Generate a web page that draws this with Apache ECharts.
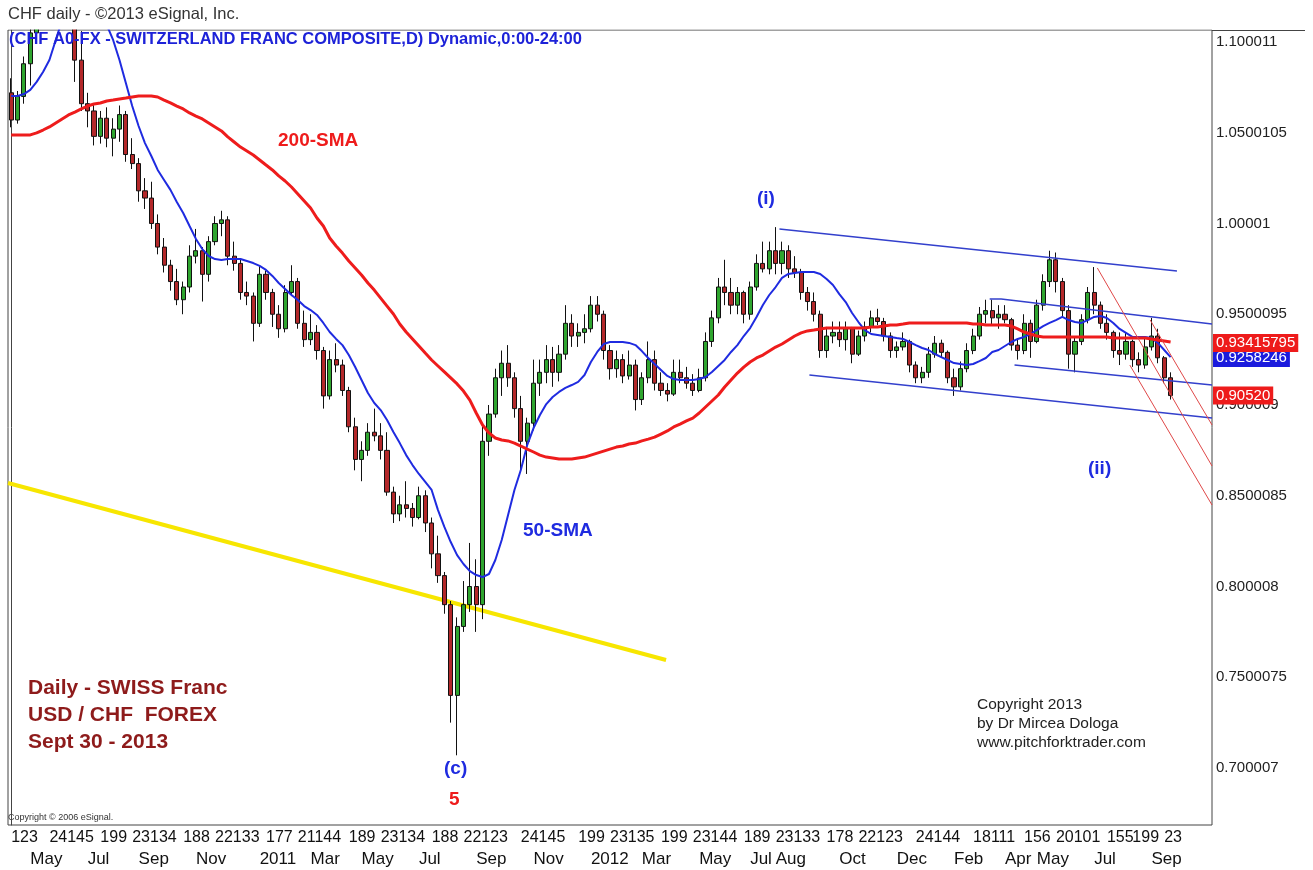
<!DOCTYPE html>
<html>
<head>
<meta charset="utf-8">
<title>CHF daily</title>
<script src="https://cdn.jsdelivr.net/npm/echarts@6/dist/echarts.min.js"></script>
<style>
html, body { margin: 0; padding: 0; background: #fff; }
#main { width: 1313px; height: 870px; }
</style>
</head>
<body>
<div id="main"></div>
<script>
// weekly bars: [open, close, low, high]
var weeklyBars = [
 [1.072,1.057,1.053,1.080],[1.057,1.070,1.055,1.073],[1.070,1.088,1.066,1.092],[1.088,1.105,1.076,1.112],
 [1.105,1.125,1.100,1.135],[1.125,1.140,1.120,1.150],[1.140,1.155,1.135,1.165],[1.155,1.160,1.140,1.175],
 [1.160,1.150,1.140,1.170],[1.150,1.130,1.120,1.160],[1.130,1.090,1.078,1.135],[1.090,1.066,1.062,1.106],
 [1.066,1.062,1.053,1.072],[1.062,1.048,1.043,1.066],[1.048,1.058,1.044,1.062],[1.058,1.047,1.042,1.064],
 [1.047,1.052,1.037,1.058],[1.052,1.060,1.045,1.065],[1.060,1.038,1.034,1.062],[1.038,1.033,1.030,1.047],
 [1.033,1.018,1.012,1.036],[1.018,1.014,1.008,1.025],[1.014,1.000,0.997,1.023],[1.000,0.987,0.983,1.005],
 [0.987,0.977,0.973,0.992],[0.977,0.968,0.963,0.980],[0.968,0.958,0.955,0.975],[0.958,0.965,0.950,0.968],
 [0.965,0.982,0.962,0.988],[0.982,0.985,0.978,0.997],[0.985,0.972,0.957,0.987],[0.972,0.990,0.968,0.993],
 [0.990,1.000,0.988,1.004],[1.000,1.002,0.993,1.007],[1.002,0.982,0.977,1.004],[0.982,0.978,0.974,0.990],
 [0.978,0.962,0.958,0.980],[0.962,0.960,0.955,0.968],[0.960,0.945,0.935,0.962],[0.945,0.972,0.943,0.977],
 [0.972,0.962,0.958,0.974],[0.962,0.950,0.943,0.964],[0.950,0.942,0.937,0.955],[0.942,0.962,0.940,0.966],
 [0.962,0.968,0.960,0.977],[0.968,0.945,0.942,0.970],[0.945,0.936,0.932,0.952],[0.936,0.940,0.933,0.950],
 [0.940,0.930,0.925,0.944],[0.930,0.905,0.898,0.932],[0.905,0.925,0.903,0.930],[0.925,0.922,0.918,0.934],
 [0.922,0.908,0.905,0.925],[0.908,0.888,0.885,0.910],[0.888,0.870,0.864,0.893],[0.870,0.875,0.858,0.880],
 [0.875,0.885,0.872,0.890],[0.885,0.883,0.880,0.898],[0.883,0.875,0.870,0.890],[0.875,0.852,0.850,0.885],
 [0.852,0.840,0.835,0.855],[0.840,0.845,0.836,0.850],[0.845,0.843,0.838,0.858],[0.843,0.838,0.833,0.846],
 [0.838,0.850,0.837,0.855],[0.850,0.835,0.830,0.853],[0.835,0.818,0.810,0.838],[0.818,0.806,0.802,0.828],
 [0.806,0.790,0.785,0.808],[0.790,0.740,0.725,0.792],[0.740,0.778,0.707,0.783],[0.778,0.790,0.775,0.803],
 [0.790,0.800,0.786,0.824],[0.800,0.790,0.775,0.815],[0.790,0.880,0.782,0.890],[0.880,0.895,0.872,0.900],
 [0.895,0.915,0.893,0.920],[0.915,0.923,0.905,0.930],[0.923,0.915,0.910,0.933],[0.915,0.898,0.893,0.918],
 [0.898,0.880,0.863,0.905],[0.880,0.890,0.862,0.893],[0.890,0.912,0.886,0.925],[0.912,0.918,0.905,0.925],
 [0.918,0.925,0.912,0.933],[0.925,0.918,0.910,0.932],[0.918,0.928,0.913,0.933],[0.928,0.945,0.925,0.955],
 [0.945,0.938,0.932,0.950],[0.938,0.940,0.932,0.945],[0.940,0.942,0.934,0.950],[0.942,0.955,0.940,0.960],
 [0.955,0.950,0.946,0.960],[0.950,0.930,0.925,0.952],[0.930,0.920,0.914,0.933],[0.920,0.925,0.915,0.930],
 [0.925,0.916,0.912,0.928],[0.916,0.922,0.914,0.930],[0.922,0.903,0.897,0.925],[0.903,0.915,0.900,0.918],
 [0.915,0.925,0.912,0.935],[0.925,0.912,0.908,0.930],[0.912,0.908,0.905,0.918],[0.908,0.906,0.902,0.912],
 [0.906,0.918,0.905,0.925],[0.918,0.915,0.912,0.925],[0.915,0.912,0.909,0.921],[0.912,0.908,0.905,0.917],
 [0.908,0.915,0.907,0.920],[0.915,0.935,0.913,0.940],[0.935,0.948,0.932,0.952],[0.948,0.965,0.945,0.970],
 [0.965,0.962,0.955,0.980],[0.962,0.955,0.950,0.970],[0.955,0.962,0.950,0.965],[0.962,0.950,0.945,0.963],
 [0.950,0.965,0.947,0.968],[0.965,0.978,0.963,0.983],[0.978,0.975,0.973,0.990],[0.975,0.985,0.972,0.990],
 [0.985,0.978,0.972,0.998],[0.978,0.985,0.972,0.990],[0.985,0.975,0.970,0.988],[0.975,0.973,0.970,0.982],
 [0.973,0.962,0.958,0.975],[0.962,0.957,0.952,0.965],[0.957,0.950,0.946,0.962],[0.950,0.930,0.926,0.952],
 [0.930,0.938,0.926,0.943],[0.938,0.940,0.934,0.946],[0.940,0.936,0.932,0.946],[0.936,0.942,0.930,0.946],
 [0.942,0.928,0.923,0.943],[0.928,0.938,0.927,0.941],[0.938,0.943,0.935,0.946],[0.943,0.948,0.940,0.952],
 [0.948,0.946,0.944,0.953],[0.946,0.938,0.935,0.948],[0.938,0.930,0.926,0.940],[0.930,0.932,0.926,0.935],
 [0.932,0.935,0.930,0.940],[0.935,0.922,0.918,0.936],[0.922,0.915,0.912,0.924],[0.915,0.918,0.912,0.921],
 [0.918,0.928,0.915,0.932],[0.928,0.934,0.926,0.938],[0.934,0.929,0.926,0.936],[0.929,0.915,0.912,0.930],
 [0.915,0.910,0.905,0.920],[0.910,0.920,0.908,0.924],[0.920,0.930,0.918,0.934],[0.930,0.938,0.928,0.942],
 [0.938,0.950,0.936,0.954],[0.950,0.952,0.945,0.958],[0.952,0.948,0.944,0.958],[0.948,0.950,0.942,0.955],
 [0.950,0.947,0.945,0.955],[0.947,0.933,0.930,0.948],[0.933,0.930,0.925,0.936],[0.930,0.945,0.928,0.950],
 [0.945,0.935,0.926,0.947],[0.935,0.955,0.934,0.958],[0.955,0.968,0.952,0.972],[0.968,0.980,0.965,0.985],
 [0.980,0.968,0.962,0.984],[0.968,0.952,0.948,0.970],[0.952,0.928,0.920,0.955],[0.928,0.935,0.918,0.938],
 [0.935,0.947,0.933,0.950],[0.947,0.962,0.945,0.965],[0.962,0.955,0.950,0.976],[0.955,0.945,0.942,0.957],
 [0.945,0.940,0.936,0.950],[0.940,0.930,0.926,0.941],[0.930,0.928,0.922,0.940],[0.928,0.935,0.925,0.940],
 [0.935,0.925,0.921,0.936],[0.925,0.922,0.918,0.929],[0.922,0.932,0.920,0.937],[0.932,0.938,0.930,0.948],
 [0.938,0.926,0.923,0.942],[0.926,0.915,0.912,0.927],[0.915,0.9052,0.903,0.918]
];

var sma50 = [
 1.0702,1.0702,1.0713,1.0736,1.0780,1.0835,1.0901,1.1011,1.1121,1.1204,1.1259,1.1276,1.1259,1.1204,1.1149,1.1094,
 1.1011,1.0901,1.0774,1.0647,1.0537,1.0443,1.0372,1.0295,1.0240,1.0185,1.0118,1.0058,0.9986,0.9915,0.9859,0.9821,
 0.9804,0.9799,0.9804,0.9804,0.9804,0.9793,0.9782,0.9766,0.9744,0.9711,0.9672,0.9639,0.9606,0.9578,0.9545,0.9523,
 0.9496,0.9452,0.9402,0.9364,0.9330,0.9275,0.9209,0.9138,0.9066,0.9011,0.8972,0.8917,0.8851,0.8790,0.8724,0.8669,
 0.8620,0.8576,0.8532,0.8421,0.8328,0.8245,0.8173,0.8124,0.8085,0.8063,0.8052,0.8069,0.8146,0.8256,0.8394,0.8532,
 0.8642,0.8779,0.8873,0.8945,0.9005,0.9044,0.9072,0.9094,0.9110,0.9127,0.9165,0.9237,0.9292,0.9336,0.9347,0.9347,
 0.9347,0.9342,0.9330,0.9297,0.9259,0.9226,0.9193,0.9160,0.9143,0.9138,0.9138,0.9138,0.9143,0.9154,0.9182,0.9215,
 0.9248,0.9292,0.9330,0.9380,0.9424,0.9485,0.9551,0.9606,0.9650,0.9700,0.9722,0.9727,0.9733,0.9733,0.9733,0.9722,
 0.9694,0.9661,0.9611,0.9567,0.9507,0.9457,0.9413,0.9391,0.9386,0.9380,0.9375,0.9369,0.9364,0.9347,0.9330,0.9314,
 0.9303,0.9281,0.9264,0.9248,0.9231,0.9226,0.9220,0.9226,0.9242,0.9259,0.9292,0.9303,0.9325,0.9347,0.9364,0.9375,
 0.9391,0.9413,0.9435,0.9452,0.9468,0.9485,0.9468,0.9457,0.9452,0.9468,0.9485,0.9490,0.9479,0.9452,0.9419,0.9397,
 0.9375,0.9375,0.9375,0.9369,0.9342,0.9303,0.9264
];

var sma200 = [
 1.0488,1.0488,1.0488,1.0488,1.0499,1.0515,1.0532,1.0554,1.0576,1.0598,1.0614,1.0631,1.0647,1.0658,1.0664,1.0675,
 1.0680,1.0686,1.0691,1.0697,1.0702,1.0702,1.0702,1.0697,1.0680,1.0664,1.0647,1.0631,1.0609,1.0592,1.0576,1.0554,
 1.0532,1.0510,1.0477,1.0449,1.0421,1.0399,1.0377,1.0350,1.0322,1.0295,1.0262,1.0234,1.0201,1.0163,1.0124,1.0085,
 1.0030,0.9986,0.9920,0.9876,0.9837,0.9793,0.9755,0.9716,0.9672,0.9633,0.9589,0.9545,0.9501,0.9446,0.9402,0.9364,
 0.9325,0.9286,0.9248,0.9215,0.9182,0.9149,0.9116,0.9077,0.9027,0.8956,0.8890,0.8846,0.8818,0.8807,0.8802,0.8790,
 0.8774,0.8757,0.8741,0.8724,0.8713,0.8708,0.8702,0.8702,0.8702,0.8708,0.8713,0.8724,0.8735,0.8746,0.8757,0.8768,
 0.8774,0.8785,0.8790,0.8802,0.8812,0.8823,0.8840,0.8857,0.8879,0.8895,0.8912,0.8928,0.8956,0.8989,0.9022,0.9055,
 0.9099,0.9138,0.9176,0.9209,0.9237,0.9259,0.9275,0.9297,0.9319,0.9336,0.9358,0.9380,0.9397,0.9408,0.9413,0.9419,
 0.9424,0.9424,0.9424,0.9424,0.9424,0.9424,0.9424,0.9430,0.9430,0.9435,0.9441,0.9441,0.9446,0.9452,0.9452,0.9452,
 0.9452,0.9452,0.9452,0.9452,0.9452,0.9452,0.9452,0.9446,0.9446,0.9441,0.9441,0.9441,0.9441,0.9435,0.9419,0.9402,
 0.9391,0.9380,0.9375,0.9375,0.9375,0.9375,0.9375,0.9375,0.9375,0.9375,0.9375,0.9375,0.9375,0.9369,0.9369,0.9369,
 0.9369,0.9369,0.9369,0.9364,0.9358,0.9353,0.9347
];

// price scale labels on the right
var yTicks = [1.100011, 1.0500105, 1.00001, 0.9500095, 0.900009, 0.8500085, 0.800008, 0.7500075, 0.700007];
var yTickText = ['1.100011', '1.0500105', '1.00001', '0.9500095', '0.900009', '0.8500085', '0.800008', '0.7500075', '0.700007'];

// bottom scale: [week index, text]
var dayTicks = [[0,'123'],[6,'24145'],[14,'199'],[19,'23134'],[27,'188'],[32,'22133'],[40,'177'],[45,'21144'],
 [53,'189'],[58,'23134'],[66,'188'],[71,'22123'],[80,'24145'],[89,'199'],[94,'23135'],[102,'199'],[107,'23144'],
 [115,'189'],[120,'23133'],[128,'178'],[133,'22123'],[142,'24144'],[151,'18111'],[159,'156'],[164,'20101'],
 [172,'155'],[176,'199'],[181,'23']];
var monthTicks = [[3,'May'],[12,'Jul'],[20,'Sep'],[29,'Nov'],[39,'2011'],[47,'Mar'],[55,'May'],[64,'Jul'],
 [73,'Sep'],[82,'Nov'],[91,'2012'],[99,'Mar'],[108,'May'],[116,'Jul'],[120,'Aug'],[130,'Oct'],[139,'Dec'],
 [148,'Feb'],[156,'Apr'],[161,'May'],[170,'Jul'],[179,'Sep']];

// last values flagged on the price scale (blue 50-SMA, red 200-SMA, red last close)
var lastValues = [0.9258246, 0.93415795, 0.90520];
var lastTexts = ['0.9258246', '0.93415795', '0.90520'];

// drawn lines, [week index, price]
var yellowLine = [[-0.5, 0.8570], [102.8, 0.7595]];
var channelTop = [[120.6, 0.9970], [183.0, 0.9738]];
var channelBottom = [[125.3, 0.9165], [188.5, 0.8928]];
var innerTop = [[153.6, 0.9584], [155.4, 0.9584], [188.5, 0.9446]];
var innerBottom = [[157.5, 0.9220], [188.5, 0.9110]];
var forkMedian = [[170.5, 0.9755], [188.5, 0.8664]];
var forkUpper = [[178.8, 0.9468], [188.5, 0.8890]];
var forkLower = [[175.6, 0.9220], [188.5, 0.8449]];

var FONT = '"Liberation Sans", Arial, sans-serif';

// weekly categories, Apr 5 2010 onward, with a few empty weeks after the last bar
var weeks = [];
var d = new Date(2010, 3, 5);
for (var i = 0; i < 189; i++) {
    weeks.push(d.getFullYear() + '-' + (d.getMonth() + 1) + '-' + d.getDate());
    d.setDate(d.getDate() + 7);
}

var dayMap = {};
dayTicks.forEach(function (t) { dayMap[t[0]] = t[1]; });
var monthMap = {};
monthTicks.forEach(function (t) { monthMap[t[0]] = t[1]; });

function drawLine(data, color, width, z) {
    return {
        type: 'line', xAxisIndex: 2, data: data, symbol: 'none', silent: true, z: z,
        lineStyle: { color: color, width: width }
    };
}

var chart = echarts.init(document.getElementById('main'));
chart.setOption({
    animation: false,
    backgroundColor: '#fff',
    grid: { left: 8, right: 101, top: 30, bottom: 45, show: true, borderColor: '#444', borderWidth: 1 },
    xAxis: [
        {
            type: 'category', data: weeks, boundaryGap: true,
            axisLine: { show: false }, axisTick: { show: false }, splitLine: { show: false },
            axisLabel: {
                interval: 0, margin: 5, align: 'left', fontSize: 16, color: '#111', fontFamily: FONT,
                formatter: function (v, idx) { return dayMap[idx] || ''; }
            }
        },
        {
            type: 'category', data: weeks, boundaryGap: true, position: 'bottom', offset: 21,
            axisLine: { show: false }, axisTick: { show: false }, splitLine: { show: false },
            axisLabel: {
                interval: 0, margin: 5, align: 'left', fontSize: 17, color: '#111', fontFamily: FONT,
                formatter: function (v, idx) { return monthMap[idx] || ''; }
            }
        },
        { type: 'value', min: -0.5, max: weeks.length - 0.5, show: false }
    ],
    yAxis: {
        type: 'value', position: 'right', min: 0.6686, max: 1.1066, scale: true,
        splitLine: { show: false },
        axisLine: { show: true, lineStyle: { color: '#444' } },
        axisTick: { show: false },
        axisLabel: {
            customValues: yTicks, margin: 4, fontSize: 15, color: '#222', fontFamily: FONT,
            formatter: function (v) {
                var k = yTicks.indexOf(v);
                return k >= 0 ? yTickText[k] : '';
            }
        }
    },
    series: [
        drawLine(yellowLine, '#f7e600', 4, 1),
        {
            type: 'candlestick', data: weeklyBars, barWidth: '72%', clip: true, z: 2,
            itemStyle: { color: '#2fa52f', color0: '#b3282a', borderColor: '#111', borderColor0: '#111', borderWidth: 1 }
        },
        {
            type: 'line', data: sma50, symbol: 'none', silent: true, z: 3,
            lineStyle: { color: '#1f2be0', width: 2 }
        },
        {
            type: 'line', data: sma200, symbol: 'none', silent: true, z: 3,
            lineStyle: { color: '#ee1c1c', width: 3 }
        },
        drawLine(channelTop, '#3340cc', 1.5, 4),
        drawLine(channelBottom, '#3340cc', 1.5, 4),
        drawLine(innerTop, '#3340cc', 1.5, 4),
        drawLine(innerBottom, '#3340cc', 1.5, 4),
        drawLine(forkMedian, '#e04848', 1, 4),
        drawLine(forkUpper, '#e04848', 1, 4),
        drawLine(forkLower, '#e04848', 1, 4)
    ],
    graphic: [
        // blank strip above the plot so bars that run off the top are cut at the frame
        { id: 'mask', type: 'rect', z: 50, silent: true, shape: { x: 0, y: 0, width: 1313, height: 29.5 }, style: { fill: '#fff' } },
        { id: 'topline', type: 'line', z: 51, silent: true, shape: { x1: 1212, y1: 30.5, x2: 1305, y2: 30.5 }, style: { stroke: '#444', lineWidth: 1 } },
        { id: 't1', type: 'text', z: 52, x: 8, y: 6, style: { text: 'CHF daily - ©2013 eSignal, Inc.', font: '16.5px ' + FONT, fill: '#333' } },
        { id: 't2', type: 'text', z: 52, x: 9, y: 31, style: { text: '(CHF A0-FX - SWITZERLAND FRANC COMPOSITE,D) Dynamic,0:00-24:00', font: 'bold 16.5px ' + FONT, fill: '#1d22d8' } },
        { id: 't3', type: 'text', x: 278, y: 131, style: { text: '200-SMA', font: 'bold 19px ' + FONT, fill: '#ee1c1c' } },
        { id: 't4', type: 'text', x: 523, y: 521, style: { text: '50-SMA', font: 'bold 19px ' + FONT, fill: '#1f2be0' } },
        { id: 't5', type: 'text', x: 757, y: 189, style: { text: '(i)', font: 'bold 19px ' + FONT, fill: '#1f2be0' } },
        { id: 't6', type: 'text', x: 1088, y: 459, style: { text: '(ii)', font: 'bold 19px ' + FONT, fill: '#1f2be0' } },
        { id: 't7', type: 'text', x: 444, y: 759, style: { text: '(c)', font: 'bold 19px ' + FONT, fill: '#1f2be0' } },
        { id: 't8', type: 'text', x: 449, y: 790, style: { text: '5', font: 'bold 19px ' + FONT, fill: '#ee1c1c' } },
        { id: 't9', type: 'text', x: 28, y: 678, style: { text: 'Daily - SWISS Franc', font: 'bold 21px ' + FONT, fill: '#8e1b1b' } },
        { id: 't10', type: 'text', x: 28, y: 705, style: { text: 'USD / CHF  FOREX', font: 'bold 21px ' + FONT, fill: '#8e1b1b' } },
        { id: 't11', type: 'text', x: 28, y: 732, style: { text: 'Sept 30 - 2013', font: 'bold 21px ' + FONT, fill: '#8e1b1b' } },
        { id: 't12', type: 'text', x: 977, y: 697, style: { text: 'Copyright 2013', font: '15.5px ' + FONT, fill: '#222' } },
        { id: 't13', type: 'text', x: 977, y: 716, style: { text: 'by Dr Mircea Dologa', font: '15.5px ' + FONT, fill: '#222' } },
        { id: 't14', type: 'text', x: 977, y: 735, style: { text: 'www.pitchforktrader.com', font: '15.5px ' + FONT, fill: '#222' } },
        { id: 't15', type: 'text', x: 8, y: 813, style: { text: 'Copyright © 2006 eSignal.', font: '9px ' + FONT, fill: '#333' } }
    ]
});

// flags for the last values, placed on the price scale through the y axis
var lastColors = ['#1b1bdd', '#ee1b1b', '#ee1b1b'];
var flags = lastValues.map(function (v, k) {
    var py = chart.convertToPixel({ yAxisIndex: 0 }, v);
    return {
        id: 'flag' + k, type: 'text', z: 60 + k, silent: true, x: 1213, y: py,
        style: {
            text: lastTexts[k], font: '15px ' + FONT, fill: '#fff',
            backgroundColor: lastColors[k], padding: [2, 3, 1, 3], verticalAlign: 'middle'
        }
    };
});
chart.setOption({ graphic: flags });
</script>
</body>
</html>
